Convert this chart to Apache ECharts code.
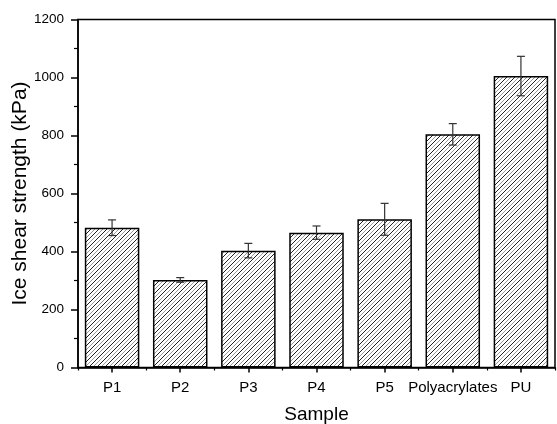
<!DOCTYPE html>
<html>
<head>
<meta charset="utf-8">
<script src="https://cdn.jsdelivr.net/npm/echarts@6/dist/echarts.min.js"></script>
<style>
  html, body { margin: 0; padding: 0; background: #fff; }
  #chart { width: 557px; height: 424px; }
</style>
</head>
<body>
<div id="chart"></div>
<script>
var samples = ['P1', 'P2', 'P3', 'P4', 'P5', 'Polyacrylates', 'PU'];
var strength = [482, 302, 403, 465, 511, 804, 1005];
var errors = [27, 8, 25, 23, 55, 37, 68];
var yTicks = [0, 200, 400, 600, 800, 1000, 1200];

// hatch pattern: "/" lines, alternating dark and grey
function hatch() {
    var c = document.createElement('canvas');
    c.width = 8; c.height = 8;
    var ctx = c.getContext('2d');
    ctx.fillStyle = '#fff';
    ctx.fillRect(0, 0, 8, 8);
    ctx.lineWidth = 1;
    function seg(x0, y0, x1, y1, col) {
        ctx.strokeStyle = col;
        ctx.beginPath();
        ctx.moveTo(x0, y0);
        ctx.lineTo(x1, y1);
        ctx.stroke();
    }
    seg(-1, 9, 9, -1, '#222');
    seg(-1, 5, 5, -1, '#999');
    seg(3, 9, 9, 3, '#999');
    return c;
}

var errData = samples.map(function (s, i) {
    return [i, strength[i] - errors[i], strength[i] + errors[i]];
});

var font = "'Liberation Sans', Arial, sans-serif";

option = {
    animation: false,
    grid: {
        left: 78, right: 2, top: 19.5, bottom: 56.5,
        outerBoundsMode: 'none',
        containLabel: false,
        show: true, borderColor: '#000', borderWidth: 1.5, backgroundColor: 'transparent'
    },
    xAxis: [{
        type: 'category',
        data: samples,
        name: 'Sample',
        nameLocation: 'middle',
        nameGap: 38,
        nameMoveOverlap: false,
        nameTextStyle: { fontSize: 19, color: '#000', fontFamily: font },
        axisLine: { lineStyle: { color: '#000', width: 1.5 } },
        axisTick: { show: true, alignWithLabel: true, interval: 0, length: 5, lineStyle: { color: '#000', width: 1.5 } },
        axisLabel: { interval: 0, fontSize: 15, color: '#000', fontFamily: font, margin: 13 }
    }, {
        // short ticks on the category boundaries
        type: 'category',
        data: samples,
        position: 'bottom',
        axisLine: { show: false },
        axisTick: { show: true, interval: 0, length: 3, lineStyle: { color: '#000', width: 1.2 } },
        axisLabel: { show: false }
    }],
    yAxis: {
        type: 'value',
        min: yTicks[0],
        max: yTicks[yTicks.length - 1],
        interval: 200,
        name: 'Ice shear strength (kPa)',
        nameLocation: 'middle',
        nameGap: 47,
        nameMoveOverlap: false,
        nameTextStyle: { fontSize: 21, color: '#000', fontFamily: font },
        axisLine: { show: true, lineStyle: { color: '#000', width: 1.5 } },
        axisTick: { show: true, length: 7, lineStyle: { color: '#000', width: 1.5 } },
        minorTick: { show: true, splitNumber: 2, length: 4, lineStyle: { color: '#000', width: 1.2 } },
        splitLine: { show: false },
        axisLabel: {
            fontSize: 13.5, color: '#000', fontFamily: font, margin: 14,
            formatter: function (v) { return String(v); }
        }
    },
    series: [
        {
            type: 'bar',
            data: strength,
            barWidth: '80%',
            itemStyle: {
                color: { image: hatch(), repeat: 'repeat' },
                borderColor: '#000',
                borderWidth: 1.5
            }
        },
        {
            type: 'custom',
            data: errData,
            z: 10,
            renderItem: function (params, api) {
                var x = api.value(0);
                var lo = api.coord([x, api.value(1)]);
                var hi = api.coord([x, api.value(2)]);
                var w = 4;
                var st = { stroke: '#333', lineWidth: 1.2 };
                return {
                    type: 'group',
                    children: [
                        { type: 'line', shape: { x1: lo[0], y1: lo[1], x2: hi[0], y2: hi[1] }, style: st },
                        { type: 'line', shape: { x1: lo[0] - w, y1: lo[1], x2: lo[0] + w, y2: lo[1] }, style: st },
                        { type: 'line', shape: { x1: hi[0] - w, y1: hi[1], x2: hi[0] + w, y2: hi[1] }, style: st }
                    ]
                };
            }
        }
    ]
};

var myChart = echarts.init(document.getElementById('chart'));
myChart.setOption(option);
</script>
</body>
</html>
